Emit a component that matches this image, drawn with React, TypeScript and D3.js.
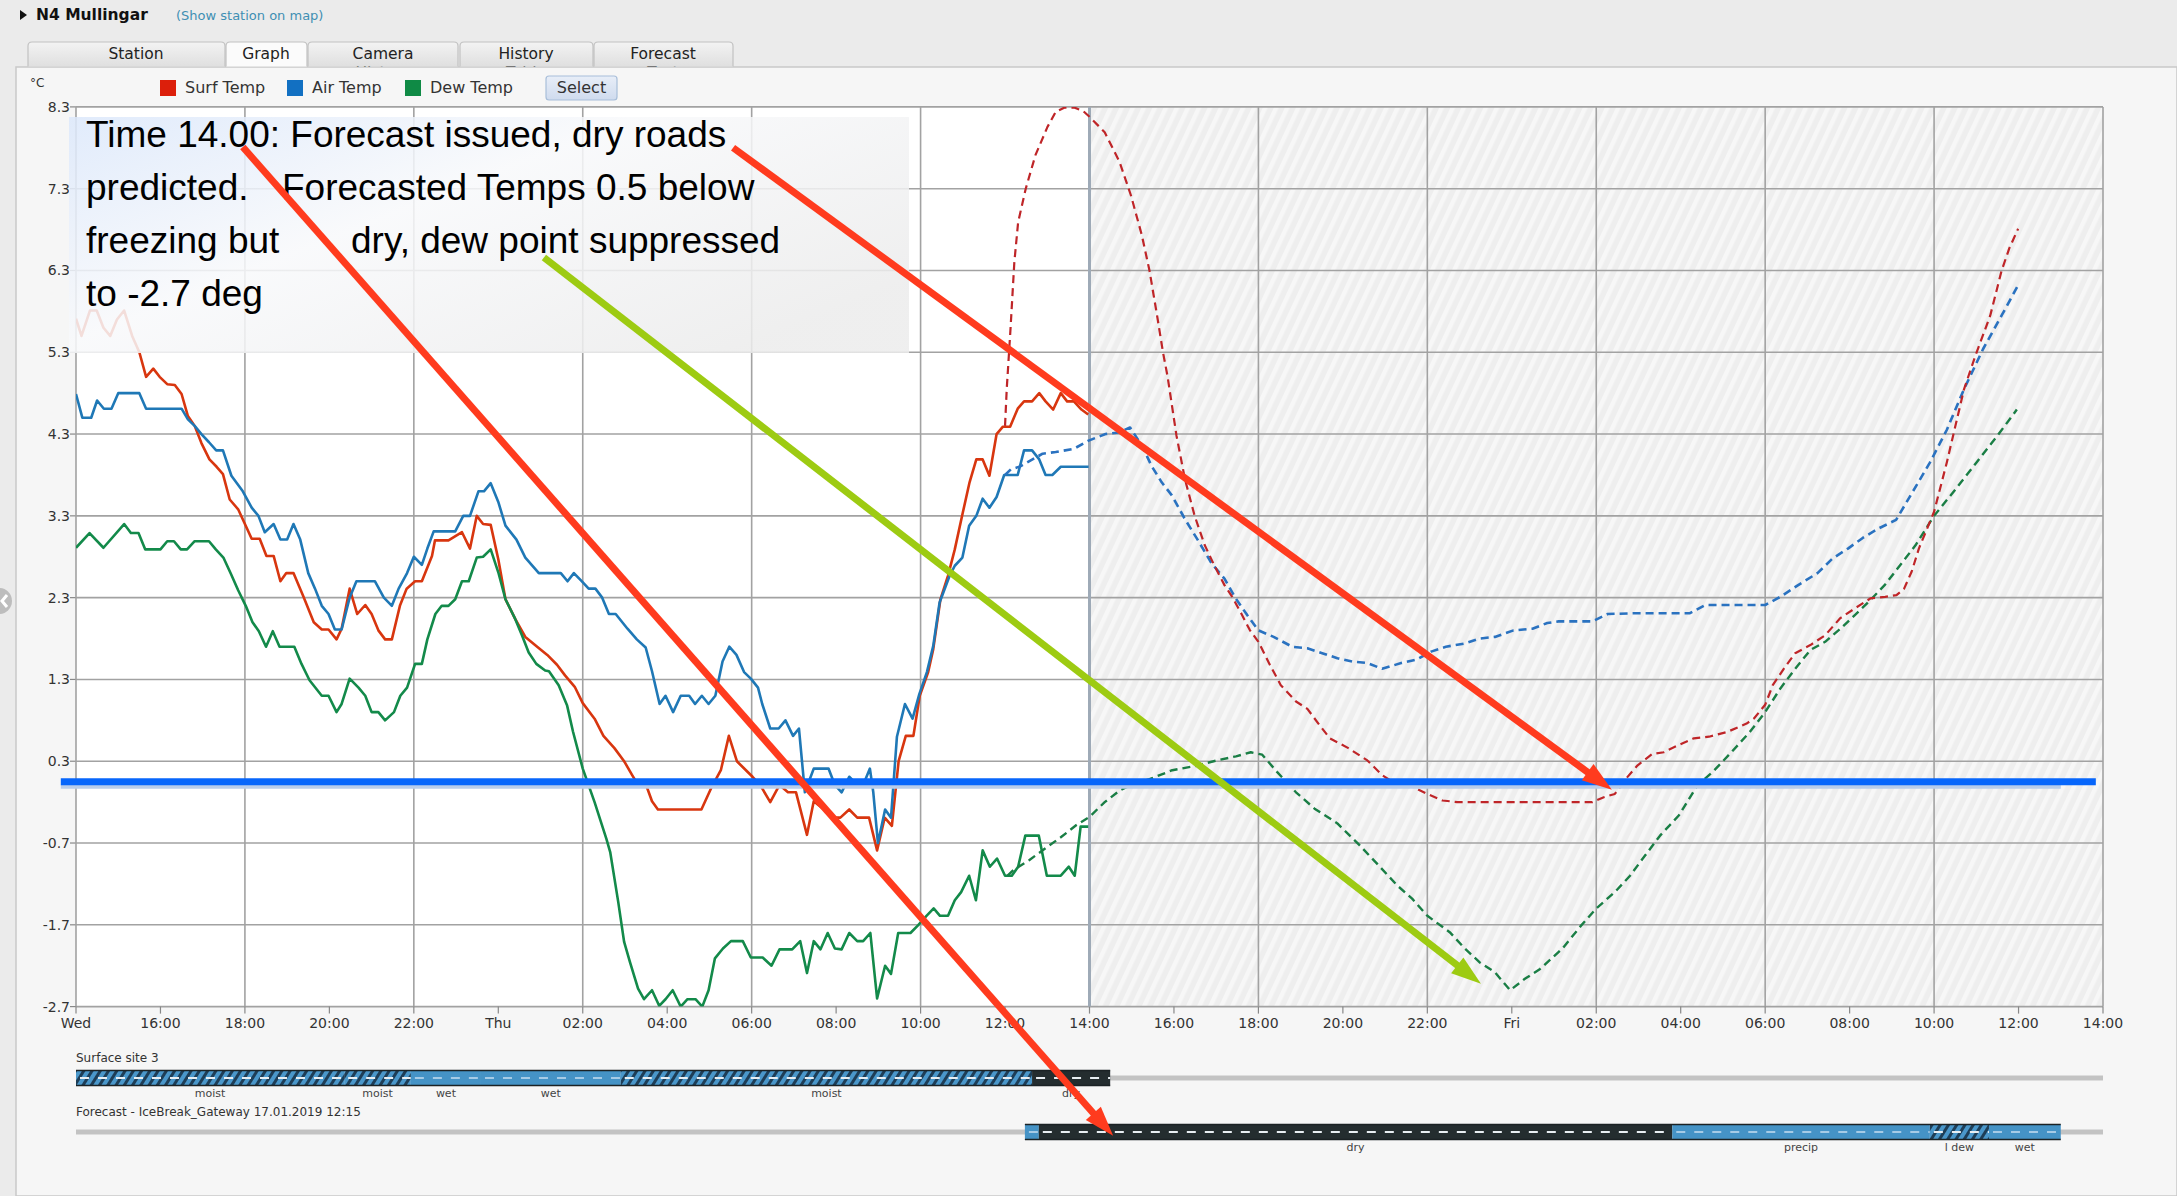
import React from 'react';
import * as d3 from 'd3';

const W = 2177;
const H = 1196;

// ---------- data ----------
const X_TICK_LABELS = ['Wed','16:00','18:00','20:00','22:00','Thu','02:00','04:00','06:00','08:00','10:00','12:00','14:00','16:00','18:00','20:00','22:00','Fri','02:00','04:00','06:00','08:00','10:00','12:00','14:00'];
const Y_TICK_VALUES = [8.3, 7.3, 6.3, 5.3, 4.3, 3.3, 2.3, 1.3, 0.3, -0.7, -1.7, -2.7];
const GRID_HOURS = [0, 4, 8, 12, 16, 20, 24, 28, 32, 36, 40, 44, 48];
const FORECAST_ISSUED_HOUR = 24;
const FREEZE_LINE = [[-0.36, 0.05], [47.83, 0.05]];

// hours since Wed 14:00, temperature °C
const SURF_OBS: [number, number][] = [[0,5.71],[0.13,5.5],[0.33,5.81],[0.49,5.81],[0.65,5.6],[0.81,5.5],[0.97,5.7],[1.14,5.81],[1.33,5.5],[1.5,5.3],[1.66,5.0],[1.83,5.1],[1.98,5.0],[2.16,4.91],[2.34,4.9],[2.5,4.79],[2.65,4.52],[2.81,4.4],[2.97,4.19],[3.16,3.99],[3.33,3.9],[3.48,3.81],[3.64,3.5],[3.84,3.38],[4.0,3.2],[4.16,3.02],[4.35,3.02],[4.51,2.81],[4.68,2.81],[4.84,2.5],[4.98,2.6],[5.15,2.6],[5.38,2.32],[5.63,2.0],[5.82,1.91],[5.98,1.91],[6.17,1.79],[6.29,1.92],[6.48,2.41],[6.66,2.1],[6.85,2.21],[7.0,2.1],[7.16,1.9],[7.32,1.79],[7.48,1.79],[7.67,2.2],[7.83,2.41],[8.03,2.5],[8.19,2.5],[8.43,2.81],[8.5,3.0],[8.82,3.0],[9.14,3.1],[9.33,2.9],[9.49,3.3],[9.64,3.2],[9.82,3.19],[10.0,2.77],[10.17,2.28],[10.4,2.04],[10.64,1.82],[10.92,1.7],[11.16,1.6],[11.39,1.48],[11.58,1.35],[11.81,1.21],[12.0,1.01],[12.28,0.82],[12.49,0.61],[12.75,0.46],[12.98,0.3],[13.17,0.13],[13.31,0.01],[13.5,0.01],[13.64,-0.19],[13.78,-0.29],[14.81,-0.29],[15.04,-0.03],[15.27,0.19],[15.46,0.61],[15.65,0.3],[16.02,0.11],[16.2,0.01],[16.44,-0.2],[16.66,0.01],[16.86,-0.08],[17.05,-0.08],[17.31,-0.6],[17.47,-0.19],[17.71,-0.29],[17.89,-0.39],[18.1,-0.39],[18.31,-0.29],[18.5,-0.39],[18.78,-0.39],[18.97,-0.79],[19.15,-0.39],[19.32,-0.49],[19.48,0.3],[19.65,0.61],[19.83,0.61],[19.98,1.1],[20.18,1.39],[20.3,1.67],[20.47,2.28],[20.65,2.57],[20.81,2.89],[21.0,3.34],[21.16,3.71],[21.32,3.99],[21.47,3.99],[21.63,3.79],[21.8,4.3],[21.95,4.39],[22.12,4.39],[22.3,4.61],[22.45,4.7],[22.64,4.7],[22.81,4.8],[22.96,4.7],[23.14,4.6],[23.32,4.8],[23.47,4.7],[23.63,4.7],[23.81,4.6],[23.97,4.54]];

const AIR_OBS: [number, number][] = [[0,4.79],[0.15,4.5],[0.36,4.5],[0.5,4.71],[0.66,4.61],[0.84,4.61],[1.0,4.8],[1.5,4.8],[1.66,4.61],[2.5,4.61],[2.65,4.48],[2.81,4.4],[2.97,4.3],[3.15,4.2],[3.32,4.1],[3.48,4.1],[3.68,3.79],[3.95,3.6],[4.16,3.4],[4.32,3.3],[4.47,3.1],[4.68,3.2],[4.84,3.01],[5.0,3.01],[5.15,3.2],[5.31,3.01],[5.5,2.6],[5.66,2.41],[5.82,2.2],[5.98,2.1],[6.13,1.91],[6.29,1.91],[6.48,2.3],[6.64,2.5],[7.08,2.5],[7.29,2.3],[7.48,2.2],[7.64,2.41],[7.84,2.6],[8.0,2.8],[8.19,2.7],[8.32,2.9],[8.47,3.11],[8.98,3.11],[9.17,3.3],[9.33,3.3],[9.53,3.6],[9.66,3.6],[9.82,3.7],[10.0,3.47],[10.17,3.18],[10.43,3.01],[10.64,2.79],[10.96,2.6],[11.48,2.6],[11.64,2.5],[11.79,2.6],[11.98,2.5],[12.14,2.41],[12.3,2.41],[12.46,2.3],[12.62,2.1],[12.78,2.1],[13.06,1.92],[13.28,1.79],[13.49,1.69],[13.64,1.4],[13.82,1.0],[13.96,1.1],[14.14,0.9],[14.32,1.1],[14.52,1.1],[14.66,1.0],[14.82,1.1],[14.98,1.0],[15.14,1.1],[15.31,1.52],[15.47,1.7],[15.64,1.6],[15.82,1.39],[15.98,1.31],[16.15,1.2],[16.25,1.0],[16.44,0.7],[16.64,0.7],[16.8,0.8],[16.98,0.61],[17.12,0.7],[17.26,-0.08],[17.47,0.21],[17.82,0.21],[17.97,0.01],[18.13,-0.08],[18.31,0.11],[18.5,0.01],[18.64,0.01],[18.8,0.21],[18.88,-0.08],[18.99,-0.7],[19.16,-0.29],[19.3,-0.39],[19.44,0.6],[19.63,1.0],[19.81,0.82],[19.97,1.12],[20.15,1.39],[20.3,1.71],[20.45,2.24],[20.69,2.57],[20.81,2.69],[20.99,2.79],[21.15,3.18],[21.32,3.3],[21.47,3.51],[21.63,3.4],[21.8,3.53],[21.98,3.8],[22.14,3.8],[22.3,3.8],[22.45,4.1],[22.64,4.1],[22.81,3.99],[22.96,3.8],[23.12,3.8],[23.32,3.9],[23.98,3.9]];

const DEW_OBS: [number, number][] = [[0,2.91],[0.32,3.09],[0.65,2.91],[1.14,3.2],[1.3,3.09],[1.48,3.09],[1.64,2.89],[2.0,2.89],[2.16,2.99],[2.32,2.99],[2.48,2.89],[2.63,2.89],[2.81,2.99],[3.15,2.99],[3.31,2.89],[3.49,2.79],[3.67,2.59],[3.84,2.39],[4.02,2.2],[4.18,2.0],[4.33,1.89],[4.5,1.7],[4.66,1.89],[4.82,1.7],[5.17,1.7],[5.34,1.49],[5.53,1.29],[5.82,1.1],[5.98,1.1],[6.17,0.9],[6.29,1.0],[6.48,1.31],[6.69,1.2],[6.85,1.1],[7.0,0.9],[7.16,0.9],[7.32,0.8],[7.53,0.9],[7.68,1.1],[7.84,1.2],[8.03,1.49],[8.19,1.49],[8.32,1.79],[8.51,2.1],[8.66,2.2],[8.82,2.2],[8.98,2.28],[9.14,2.5],[9.3,2.5],[9.49,2.79],[9.64,2.8],[9.82,2.89],[10.0,2.61],[10.17,2.28],[10.4,2.04],[10.56,1.84],[10.72,1.63],[10.9,1.49],[11.11,1.41],[11.2,1.4],[11.43,1.23],[11.63,0.98],[11.77,0.66],[12.0,0.21],[12.28,-0.2],[12.56,-0.65],[12.65,-0.81],[12.84,-1.42],[12.98,-1.91],[13.12,-2.16],[13.31,-2.48],[13.45,-2.61],[13.64,-2.5],[13.81,-2.69],[13.96,-2.61],[14.13,-2.5],[14.32,-2.7],[14.48,-2.61],[14.67,-2.61],[14.83,-2.7],[14.98,-2.5],[15.13,-2.11],[15.32,-1.99],[15.51,-1.9],[15.79,-1.9],[15.98,-2.1],[16.26,-2.1],[16.47,-2.2],[16.66,-2.0],[16.96,-2.0],[17.15,-1.9],[17.31,-2.29],[17.47,-1.9],[17.63,-2.0],[17.8,-1.8],[17.97,-1.99],[18.13,-2.0],[18.31,-1.8],[18.5,-1.9],[18.64,-1.9],[18.81,-1.8],[18.97,-2.6],[19.16,-2.2],[19.3,-2.3],[19.47,-1.8],[19.76,-1.8],[19.95,-1.7],[20.14,-1.59],[20.31,-1.5],[20.46,-1.59],[20.65,-1.59],[20.81,-1.4],[20.96,-1.3],[21.15,-1.1],[21.31,-1.4],[21.47,-0.79],[21.64,-0.99],[21.81,-0.89],[22.0,-1.1],[22.16,-1.1],[22.31,-0.99],[22.48,-0.61],[22.8,-0.61],[22.99,-1.1],[23.32,-1.1],[23.51,-0.99],[23.65,-1.1],[23.79,-0.5],[23.97,-0.5]];

const SURF_FC: [number, number][] = [[22.0,4.4],[22.04,4.85],[22.13,5.59],[22.22,6.4],[22.31,6.89],[22.49,7.3],[22.72,7.71],[23.0,8.05],[23.2,8.24],[23.4,8.29],[23.65,8.29],[23.85,8.25],[24.0,8.18],[24.36,7.99],[24.71,7.63],[24.98,7.22],[25.24,6.73],[25.42,6.3],[25.6,5.75],[25.74,5.3],[25.85,5.0],[26.06,4.28],[26.26,3.75],[26.49,3.3],[26.73,2.94],[26.96,2.69],[27.2,2.45],[27.38,2.31],[27.6,2.1],[27.8,1.9],[28.0,1.76],[28.27,1.48],[28.53,1.23],[28.89,1.03],[29.16,0.94],[29.42,0.76],[29.69,0.58],[30.13,0.46],[30.58,0.31],[30.93,0.13],[31.29,0.01],[31.56,0.01],[32.0,-0.1],[32.36,-0.18],[32.71,-0.2],[35.91,-0.2],[36.18,-0.14],[36.44,-0.1],[36.71,0.09],[36.98,0.25],[37.33,0.39],[37.6,0.41],[37.96,0.5],[38.31,0.58],[38.67,0.6],[39.11,0.66],[39.56,0.76],[39.73,0.82],[40.0,0.99],[40.18,1.23],[40.44,1.43],[40.71,1.62],[41.07,1.72],[41.42,1.84],[41.78,2.05],[42.13,2.17],[42.49,2.29],[42.84,2.31],[43.11,2.33],[43.29,2.41],[43.47,2.62],[43.64,2.9],[44.0,3.35],[44.3,3.95],[44.71,4.85],[44.98,5.26],[45.33,5.75],[45.6,6.3],[45.78,6.57],[45.99,6.81]];

const AIR_FC: [number, number][] = [[22.0,3.8],[22.14,3.87],[22.34,3.9],[22.65,3.99],[22.89,4.06],[23.2,4.08],[23.63,4.12],[23.98,4.22],[24.38,4.3],[24.69,4.32],[24.96,4.38],[25.24,4.16],[25.47,3.91],[25.71,3.71],[25.95,3.55],[26.26,3.26],[26.57,3.0],[26.89,2.72],[27.2,2.53],[27.45,2.3],[27.73,2.09],[28.0,1.9],[28.36,1.82],[28.8,1.7],[29.16,1.68],[29.51,1.62],[29.87,1.56],[30.22,1.52],[30.58,1.5],[30.93,1.43],[31.38,1.5],[31.73,1.54],[32.09,1.64],[32.44,1.7],[32.89,1.74],[33.24,1.8],[33.6,1.82],[34.04,1.9],[34.49,1.92],[34.84,1.99],[35.11,2.01],[35.91,2.01],[36.27,2.1],[36.98,2.11],[38.22,2.11],[38.58,2.21],[40.0,2.21],[40.36,2.31],[40.8,2.46],[41.24,2.6],[41.6,2.78],[41.96,2.9],[42.31,3.03],[42.7,3.15],[43.1,3.25],[43.5,3.6],[43.9,3.95],[44.3,4.35],[44.71,4.85],[45.16,5.34],[45.6,5.75],[45.99,6.12]];

const DEW_FC: [number, number][] = [[22.06,-1.1],[22.2,-1.03],[22.57,-0.91],[22.94,-0.77],[23.32,-0.63],[23.69,-0.48],[24.0,-0.38],[24.36,-0.2],[24.71,-0.06],[25.07,0.03],[25.42,0.08],[25.96,0.19],[26.49,0.24],[27.02,0.31],[27.47,0.36],[27.82,0.41],[28.09,0.38],[28.44,0.17],[28.89,-0.08],[29.33,-0.28],[29.87,-0.46],[30.4,-0.73],[30.84,-0.97],[31.29,-1.22],[31.64,-1.38],[32.0,-1.59],[32.53,-1.79],[32.89,-1.99],[33.24,-2.16],[33.6,-2.28],[33.96,-2.5],[34.31,-2.36],[34.67,-2.24],[35.2,-1.99],[35.64,-1.71],[36.0,-1.5],[36.44,-1.3],[36.8,-1.1],[37.16,-0.85],[37.51,-0.61],[37.96,-0.36],[38.4,0.01],[38.76,0.17],[39.2,0.41],[39.64,0.66],[40.0,0.9],[40.36,1.19],[40.71,1.43],[41.07,1.66],[41.42,1.76],[41.78,1.92],[42.13,2.09],[42.49,2.27],[42.84,2.46],[43.2,2.7],[43.56,2.94],[44.0,3.3],[44.5,3.62],[45.0,3.95],[45.5,4.28],[45.96,4.6]];

const SERIES_NAMES = ['Surf Temp', 'Air Temp', 'Dew Temp'];
const LEGEND_COLORS = ['#dc1f0b', '#1270c2', '#0f8a45'];

const SURFACE_SEGMENTS = [
  { start: 0, end: 6.35, state: 'moist' },
  { start: 6.35, end: 7.93, state: 'moist' },
  { start: 7.93, end: 9.59, state: 'wet' },
  { start: 9.59, end: 12.9, state: 'wet' },
  { start: 12.9, end: 22.64, state: 'moist' },
  { start: 22.64, end: 24.49, state: 'dry' },
];
const FORECAST_SEGMENTS = [
  { start: 22.47, end: 22.8, state: '' },
  { start: 22.8, end: 37.8, state: 'dry' },
  { start: 37.8, end: 43.9, state: 'precip' },
  { start: 43.9, end: 45.3, state: 'l dew' },
  { start: 45.3, end: 47.0, state: 'wet' },
];

const ANNOTATION_LINES = [
  ['Time 14.00: Forecast issued, dry roads'],
  ['predicted.', 'Forecasted Temps 0.5 below'],
  ['freezing but', 'dry, dew point suppressed'],
  ['to -2.7 deg'],
];

const ARROWS = [
  { from: [3.95, 7.81], to: [24.56, -4.28], color: '#ff3b1e' },
  { from: [15.56, 7.8], to: [36.37, -0.05], color: '#ff3b1e' },
  { from: [11.08, 6.46], to: [33.27, -2.42], color: '#9dcb12' },
];

// ---------- layout ----------
const PL = 76, PR = 2103, PT = 106.9, PB = 1006.6;
const FONT = '"DejaVu Sans", Verdana, sans-serif';

const TABS = [
  { label: 'Station', sub: '', x0: 28, x1: 225, tx: 136 },
  { label: 'Graph', sub: '', x0: 226, x1: 307, tx: 266, active: true },
  { label: 'Camera', sub: 'History', x0: 308, x1: 458, tx: 383 },
  { label: 'History', sub: 'Table', x0: 460, x1: 593, tx: 526 },
  { label: 'Forecast', sub: 'Text', x0: 594, x1: 733, tx: 663 },
];

function arrowGeom(x1: number, y1: number, x2: number, y2: number, len: number, hw: number) {
  const dx = x2 - x1, dy = y2 - y1;
  const L = Math.hypot(dx, dy);
  const ux = dx / L, uy = dy / L;
  const bx = x2 - ux * len, by = y2 - uy * len;
  const px = -uy, py = ux;
  return {
    line: [x1, y1, bx + ux * 2, by + uy * 2],
    head: `${x2},${y2} ${bx + px * hw},${by + py * hw} ${bx - px * hw},${by - py * hw}`,
  };
}

export default function App() {
  const x = d3.scaleLinear().domain([0, 48]).range([PL, PR]);
  const y = d3.scaleLinear().domain([-2.7, 8.3]).range([PB, PT]);
  const line = d3.line<[number, number]>().x(d => x(d[0])).y(d => y(d[1]));

  const observed = [
    { data: SURF_OBS, color: '#d8360f' },
    { data: AIR_OBS, color: '#1f78b6' },
    { data: DEW_OBS, color: '#138a4a' },
  ];
  const forecast = [
    { data: AIR_FC, color: '#2a72c0', w: 2.6 },
    { data: DEW_FC, color: '#1a7e45', w: 2.4 },
    { data: SURF_FC, color: '#bf2528', w: 2.2 },
  ];

  const barFill = (state: string) => {
    if (state === 'dry') return '#242d2f';
    if (state === 'moist' || state === 'l dew') return 'url(#barHatch)';
    return '#4593c6';
  };
  const dashColor = (state: string) => (state === 'dry' || state === 'moist' || state === 'l dew') ? '#e8eef2' : '#a6cbe6';

  const renderBar = (segs: typeof SURFACE_SEGMENTS, cy: number, labelY: number, key: string) => (
    <g key={key}>
      {segs.map((s, i) => (
        <g key={i}>
          <rect x={x(s.start)} y={cy - 7.5} width={x(s.end) - x(s.start)} height={15} fill={barFill(s.state)} />
          <line x1={x(s.start) + 4} x2={x(s.end)} y1={cy} y2={cy} stroke={dashColor(s.state)} strokeWidth={2} strokeDasharray="9 9" />
        </g>
      ))}
      <line x1={x(segs[0].start)} x2={x(segs[segs.length - 1].end)} y1={cy - 7.5} y2={cy - 7.5} stroke="#1b2224" strokeWidth={1.5} />
      <line x1={x(segs[0].start)} x2={x(segs[segs.length - 1].end)} y1={cy + 7.5} y2={cy + 7.5} stroke="#1b2224" strokeWidth={1.5} />
      {segs.map((s, i) => s.state ? (
        <text key={'l' + i} x={x((s.start + s.end) / 2)} y={labelY} fontSize={11} fill="#444" textAnchor="middle" fontFamily={FONT}>{s.state}</text>
      ) : null)}
    </g>
  );

  return (
    <svg width={W} height={H} style={{ position: 'absolute', left: 0, top: 0 }} xmlns="http://www.w3.org/2000/svg">
      <defs>
        <pattern id="fcHatch" width="10" height="10" patternUnits="userSpaceOnUse" patternTransform="rotate(25)">
          <rect width="10" height="10" fill="#eeeeee" />
          <rect width="4.5" height="10" fill="#f7f7f7" />
        </pattern>
        <pattern id="barHatch" width="7" height="7" patternUnits="userSpaceOnUse" patternTransform="rotate(32)">
          <rect width="7" height="7" fill="#4a97ca" />
          <rect width="3" height="7" fill="#1e3e57" />
        </pattern>
        <linearGradient id="boxGrad" x1="0" y1="0" x2="1" y2="0.7">
          <stop offset="0" stopColor="#dce8fb" />
          <stop offset="0.45" stopColor="#f8f9fb" />
          <stop offset="1" stopColor="#ececec" />
        </linearGradient>
        <linearGradient id="tabGrad" x1="0" y1="0" x2="0" y2="1">
          <stop offset="0" stopColor="#f3f3f3" />
          <stop offset="1" stopColor="#dedede" />
        </linearGradient>
        <linearGradient id="btnGrad" x1="0" y1="0" x2="0" y2="1">
          <stop offset="0" stopColor="#e8eef8" />
          <stop offset="1" stopColor="#cfdbee" />
        </linearGradient>
        <clipPath id="plotClip">
          <rect x={PL} y={PT} width={PR - PL} height={PB - PT} />
        </clipPath>
        <clipPath id="tabClip">
          <rect x={0} y={0} width={W} height={66.5} />
        </clipPath>
      </defs>

      {/* page + panel */}
      <rect x={0} y={0} width={W} height={H} fill="#ebebeb" />
      <rect x={16} y={67} width={W - 16} height={H - 67} fill="#f6f6f6" stroke="#c9c9c9" strokeWidth={1.5} />
      <circle cx={-1} cy={601} r={13} fill="#bdbdbd" />
      <polyline points="7,595 2,601 7,607" fill="none" stroke="#fff" strokeWidth={3} />

      {/* title */}
      <polygon points="20,10 27,15 20,20" fill="#111" />
      <text x={36} y={20} fontSize={15.5} fontWeight="bold" fill="#111" fontFamily={FONT}>N4 Mullingar</text>
      <text x={176} y={20} fontSize={13} fill="#3f8fb3" fontFamily={FONT}>(Show station on map)</text>

      {/* tabs */}
      <g clipPath="url(#tabClip)">
        {TABS.map(t => (
          <g key={t.label}>
            <path d={`M${t.x0},68 L${t.x0},46 Q${t.x0},42 ${t.x0 + 4},42 L${t.x1 - 4},42 Q${t.x1},42 ${t.x1},46 L${t.x1},68 Z`}
              fill={t.active ? '#fbfbfb' : 'url(#tabGrad)'} stroke="#c2c2c2" strokeWidth={1.2} />
            <text x={t.tx} y={59} fontSize={15.5} fill="#222" textAnchor="middle" fontFamily={FONT}>{t.label}</text>
            {t.sub ? <text x={t.tx} y={78} fontSize={15.5} fill="#222" textAnchor="middle" fontFamily={FONT}>{t.sub}</text> : null}
          </g>
        ))}
      </g>

      {/* legend */}
      <text x={30} y={87} fontSize={12} fill="#333" fontFamily={FONT}>°C</text>
      {SERIES_NAMES.map((n, i) => {
        const lx = [160, 287, 405][i];
        return (
          <g key={n}>
            <rect x={lx} y={80} width={16} height={16} fill={LEGEND_COLORS[i]} />
            <text x={lx + 25} y={93} fontSize={16} fill="#333" fontFamily={FONT}>{n}</text>
          </g>
        );
      })}
      <rect x={546} y={76} width={71} height={24} rx={3} fill="url(#btnGrad)" stroke="#a8bed9" strokeWidth={1.2} />
      <text x={581.5} y={93} fontSize={16} fill="#333" textAnchor="middle" fontFamily={FONT}>Select</text>

      {/* plot background */}
      <rect x={x(0)} y={PT} width={x(FORECAST_ISSUED_HOUR) - x(0)} height={PB - PT} fill="#ffffff" />
      <rect x={x(FORECAST_ISSUED_HOUR)} y={PT} width={x(48) - x(FORECAST_ISSUED_HOUR)} height={PB - PT} fill="url(#fcHatch)" />

      {/* grid */}
      {Y_TICK_VALUES.map(v => (
        <g key={'y' + v}>
          <line x1={PL} x2={PR} y1={y(v)} y2={y(v)} stroke="#a2a2a2" strokeWidth={1.6} />
          <line x1={PL - 6} x2={PL} y1={y(v)} y2={y(v)} stroke="#888" strokeWidth={1.2} />
          <text x={PL - 6} y={y(v) + 5} fontSize={14} fill="#333" textAnchor="end" fontFamily={FONT}>{v.toFixed(1)}</text>
        </g>
      ))}
      {GRID_HOURS.map(h => (
        <line key={'g' + h} x1={x(h)} x2={x(h)} y1={PT} y2={PB} stroke="#a2a2a2" strokeWidth={1.6} />
      ))}
      {X_TICK_LABELS.map((lab, i) => (
        <g key={'x' + i}>
          <line x1={x(i * 2)} x2={x(i * 2)} y1={PB} y2={PB + 7} stroke="#888" strokeWidth={1.2} />
          <text x={x(i * 2)} y={PB + 21} fontSize={14} fill="#333" textAnchor="middle" fontFamily={FONT}>{lab}</text>
        </g>
      ))}
      <line x1={x(FORECAST_ISSUED_HOUR)} x2={x(FORECAST_ISSUED_HOUR)} y1={PT} y2={PB} stroke="#9eaab7" strokeWidth={3} />

      {/* series */}
      <g clipPath="url(#plotClip)" fill="none" strokeLinejoin="round">
        {observed.map((s, i) => (
          <path key={'o' + i} d={line(s.data) || ''} stroke={s.color} strokeWidth={2.6} />
        ))}
        {forecast.map((s, i) => (
          <path key={'f' + i} d={line(s.data) || ''} stroke={s.color} strokeWidth={s.w} strokeDasharray="8 5" />
        ))}
      </g>

      {/* annotation box */}
      <rect x={69} y={117} width={840} height={236} fill="url(#boxGrad)" opacity={0.86} />
      <g fontFamily='"Liberation Sans", Arial, sans-serif' fontSize={37} fill="#000">
        {ANNOTATION_LINES.map((parts, i) => (
          <text key={'a' + i} y={147 + i * 53}>
            {parts.map((p, j) => (
              <tspan key={j} x={j === 0 ? 86 : (i === 1 ? 282 : 351)}>{p}</tspan>
            ))}
          </text>
        ))}
      </g>

      {/* status bars */}
      <text x={76} y={1062} fontSize={12} fill="#333" fontFamily={FONT}>Surface site 3</text>
      <line x1={x(0)} x2={x(48)} y1={1078} y2={1078} stroke="#c3c3c3" strokeWidth={5} />
      {renderBar(SURFACE_SEGMENTS, 1078, 1097, 'surf')}
      <text x={76} y={1116} fontSize={12} fill="#333" fontFamily={FONT}>Forecast - IceBreak_Gateway 17.01.2019 12:15</text>
      <line x1={x(0)} x2={x(48)} y1={1132} y2={1132} stroke="#c3c3c3" strokeWidth={5} />
      {renderBar(FORECAST_SEGMENTS, 1132, 1151, 'fc')}

      {/* freezing line */}
      <line x1={x(FREEZE_LINE[0][0])} x2={x(FREEZE_LINE[1][0]) - 35} y1={y(FREEZE_LINE[0][1]) + 5} y2={y(FREEZE_LINE[1][1]) + 5} stroke="#b9cdea" strokeWidth={4} />
      <line x1={x(FREEZE_LINE[0][0])} x2={x(FREEZE_LINE[1][0])} y1={y(FREEZE_LINE[0][1])} y2={y(FREEZE_LINE[1][1])} stroke="#0766fb" strokeWidth={7} />

      {/* arrows */}
      {ARROWS.map((a, i) => {
        const g = arrowGeom(x(a.from[0]), y(a.from[1]), x(a.to[0]), y(a.to[1]), 30, 10);
        return (
          <g key={'ar' + i}>
            <line x1={g.line[0]} y1={g.line[1]} x2={g.line[2]} y2={g.line[3]} stroke={a.color} strokeWidth={7} />
            <polygon points={g.head} fill={a.color} />
          </g>
        );
      })}
    </svg>
  );
}
